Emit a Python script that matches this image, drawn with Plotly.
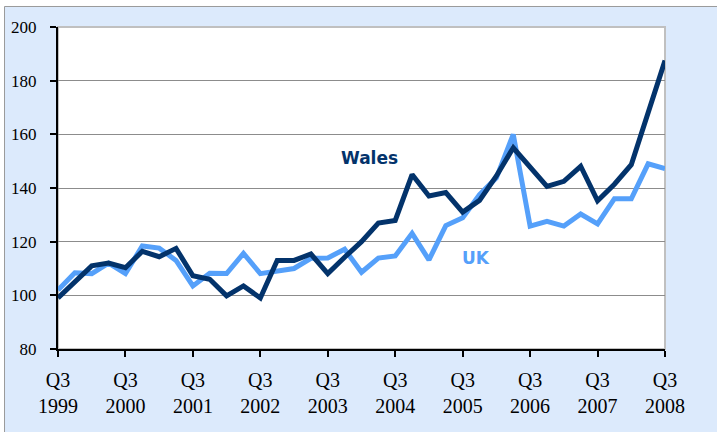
import plotly.graph_objects as go

quarters = list(range(37))  # Q3 1999 .. Q3 2008
wales = [99, 105, 111, 112, 110.3, 116.4, 114.4, 117.5, 107.3, 106, 99.8, 103.5, 99,
         113, 113, 115.4, 108.1, 114.2, 120, 126.9, 127.9, 145, 137, 138.3, 131,
         135.4, 144.5, 155, 147.7, 140.6, 142.5, 148.1, 135.2, 141.4, 148.7, 167.4, 187.5]
uk = [102, 108.4, 108.1, 112, 108.1, 118.4, 117.6, 113, 103.5, 108.2, 108.1, 115.6, 108.1,
      109, 110, 113.8, 113.9, 117.2, 108.6, 113.9, 114.7, 123.1, 113.2, 126, 128.9,
      137.5, 143.8, 160, 125.8, 127.6, 125.8, 130.3, 126.6, 136, 136, 149, 147.2]
tick_pos = [0, 4, 8, 12, 16, 20, 24, 28, 32, 36]
tick_years = ["1999", "2000", "2001", "2002", "2003", "2004", "2005", "2006", "2007", "2008"]
y_ticks = [80, 100, 120, 140, 160, 180, 200]

WALES_C = "#03336B"
UK_C = "#55A0FA"
BG = "#DCEAFC"
SERIF = "Liberation Serif, Times New Roman, DejaVu Serif, serif"

fig = go.Figure()
fig.add_trace(go.Scatter(x=quarters, y=uk, mode="lines", name="UK",
                         line=dict(color=UK_C, width=5)))
fig.add_trace(go.Scatter(x=quarters, y=wales, mode="lines", name="Wales",
                         line=dict(color=WALES_C, width=5)))

fig.add_shape(type="rect", xref="paper", yref="paper", x0=-0.0881, x1=1.3, y0=-0.5, y1=1.0637,
              fillcolor=BG, line=dict(color="#9a9a9a", width=1), layer="below")
fig.add_shape(type="rect", xref="paper", yref="paper", x0=0, x1=1, y0=0, y1=1,
              fillcolor="white", line=dict(color="#c0c0c0", width=2), layer="below")

fig.add_annotation(x=18.45, y=151.3, text="<b>Wales</b>", showarrow=False,
                   font=dict(family="DejaVu Sans", size=17, color=WALES_C))
fig.add_annotation(x=24.8, y=114.0, text="<b>UK</b>", showarrow=False,
                   font=dict(family="DejaVu Sans", size=17, color=UK_C))

fig.update_xaxes(range=[0, 36], tickmode="array", tickvals=tick_pos,
                 ticktext=["Q3<br>" + y for y in tick_years], automargin=False,
                 showgrid=False, zeroline=False, showline=True, linecolor="black", linewidth=2,
                 ticks="outside", ticklen=6, tickwidth=2, tickcolor="black",
                 ticklabelstandoff=6,
                 tickfont=dict(family=SERIF, size=20, color="black"))
fig.update_yaxes(range=[80, 200], tickmode="array", tickvals=y_ticks, automargin=False,
                 showgrid=True, gridcolor="#8c8c8c", gridwidth=1, zeroline=False,
                 showline=True, linecolor="black", linewidth=2,
                 ticks="outside", ticklen=6, tickwidth=2, tickcolor="black",
                 ticklabelstandoff=10,
                 tickfont=dict(family=SERIF, size=17, color="black"))

fig.update_layout(width=717, height=432, showlegend=False,
                  margin=dict(l=58, r=52, t=27, b=83),
                  paper_bgcolor="white", plot_bgcolor="white")
fig.write_html("out.html", config={"displayModeBar": False},
               post_script="document.body.style.margin='0';")
